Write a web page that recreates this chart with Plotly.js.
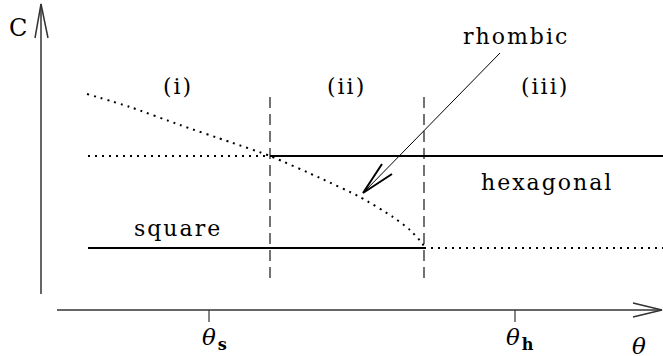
<!DOCTYPE html>
<html>
<head>
<meta charset="utf-8">
<script src="https://cdn.plot.ly/plotly-3.0.1.min.js"></script>
<style>
  html, body { margin: 0; padding: 0; background: #fff; }
  #chart { width: 663px; height: 356px; }
  .annotation-text { letter-spacing: 2px; }
</style>
</head>
<body>
<div id="chart"></div>
<script>
// Schematic phase diagram: amplitude C against control parameter theta.
// Coordinates are in arbitrary schematic units.

// Branch boundaries
const thetaStart = 0.88;
const thetaCross = 2.70;     // hexagonal / rhombic crossing
const thetaEnd = 4.24;       // rhombic branch meets the square branch
const thetaMax = 6.63;

// Hexagonal branch (constant C)
const hexC = 2.00;
const hexDottedTheta = [thetaStart, thetaCross];
const hexSolidTheta = [thetaCross, thetaMax];

// Square branch (constant C)
const squareC = 1.08;
const squareSolidTheta = [thetaStart, thetaEnd];
const squareDottedTheta = [thetaEnd, thetaMax];

// Rhombic branch
const rhombicTheta = [0.87, 1.30, 1.80, 2.30, 2.70, 3.20, 3.60, 3.93, 4.10, 4.22, 4.25];
const rhombicC     = [2.62, 2.49, 2.31, 2.14, 2.00, 1.78, 1.59, 1.39, 1.26, 1.13, 1.08];

// Region dividers
const dividerTheta = [thetaCross, thetaEnd];
const dividerC = [0.78, 2.63];

// Axis geometry
const yAxisTheta = 0.41, yAxisC = [0.62, 3.52];
const xAxisC = 0.46, xAxisTheta = [0.57, 6.62];
const tickTheta = [2.09, 5.15];
const tickLabels = ['θ<sub><b>s</b></sub>', 'θ<sub><b>h</b></sub>'];
const tickC = [0.46, 0.34];

// Region labels
const regionLabels = ['(i)', '(ii)', '(iii)'];
const regionTheta = [1.78, 3.46, 5.45];
const regionC = 2.70;

// Arrow pointing at the rhombic branch
const pointerTheta = [5.00, 3.63];
const pointerC = [3.03, 1.63];
const headTheta = [3.82, 3.63, 3.92];
const headC = [1.92, 1.63, 1.82];

const ink = '#000';
const axisInk = '#333';
const DOT = '2px,5px';
const DASH = '11px,6px';

function seg(x, y, color, width, dash) {
  return { x: x, y: y, type: 'scatter', mode: 'lines', hoverinfo: 'skip',
           showlegend: false, line: { color: color, width: width, dash: dash || 'solid' } };
}

const traces = [
  // hexagonal
  seg(hexDottedTheta, [hexC, hexC], ink, 2, DOT),
  seg(hexSolidTheta, [hexC, hexC], ink, 2),
  // square
  seg(squareSolidTheta, [squareC, squareC], ink, 2),
  seg(squareDottedTheta, [squareC, squareC], ink, 2, DOT),
  // rhombic
  { x: rhombicTheta, y: rhombicC, type: 'scatter', mode: 'lines', hoverinfo: 'skip',
    showlegend: false, line: { color: ink, width: 2, dash: DOT, shape: 'spline', smoothing: 0.6 } },
  // region dividers
  seg([dividerTheta[0], dividerTheta[0]], dividerC, '#000', 1.1, DASH),
  seg([dividerTheta[1], dividerTheta[1]], dividerC, '#000', 1.1, DASH),
  // C axis with open arrowhead
  seg([yAxisTheta, yAxisTheta], yAxisC, axisInk, 1.5),
  seg([yAxisTheta - 0.06, yAxisTheta, yAxisTheta + 0.07], [yAxisC[1] - 0.34, yAxisC[1], yAxisC[1] - 0.34], axisInk, 1.5),
  // theta axis with open arrowhead
  seg(xAxisTheta, [xAxisC, xAxisC], axisInk, 1.5),
  seg([xAxisTheta[1] - 0.29, xAxisTheta[1], xAxisTheta[1] - 0.29], [xAxisC + 0.07, xAxisC, xAxisC - 0.07], axisInk, 1.5),
  // ticks
  seg([tickTheta[0], tickTheta[0]], tickC, axisInk, 1.2),
  seg([tickTheta[1], tickTheta[1]], tickC, axisInk, 1.2),
  // pointer
  seg(pointerTheta, pointerC, ink, 1),
  seg(headTheta, headC, ink, 2)
];

const serif = 'DejaVu Serif, Liberation Serif, serif';
function label(text, x, y, size, extra) {
  return Object.assign({ text: text, x: x, y: y, xref: 'x', yref: 'y', showarrow: false,
    font: { family: serif, size: size, color: ink }, xanchor: 'center', yanchor: 'middle' }, extra || {});
}

const annotations = [
  label('C', 0.19, 3.28, 24),
  label('rhombic', 5.16, 3.20, 22),
  label('hexagonal', 5.47, 1.74, 22),
  label('square', 1.78, 1.28, 22),
  label('<i>θ</i>', 6.40, 0.10, 23)
];
regionLabels.forEach((t, i) => annotations.push(label(t, regionTheta[i], regionC, 22)));
tickLabels.forEach((t, i) => annotations.push(label('<i>' + t.replace('θ', 'θ</i>'), tickTheta[i] + 0.06, 0.17, 23)));

const layout = {
  width: 663, height: 356,
  margin: { l: 0, r: 0, t: 0, b: 0 },
  paper_bgcolor: '#fff', plot_bgcolor: '#fff',
  xaxis: { range: [0, 6.63], visible: false, fixedrange: true },
  yaxis: { range: [0, 3.56], visible: false, fixedrange: true },
  annotations: annotations,
  showlegend: false
};

Plotly.newPlot('chart', traces, layout, { staticPlot: true, displayModeBar: false });
</script>
</body>
</html>
